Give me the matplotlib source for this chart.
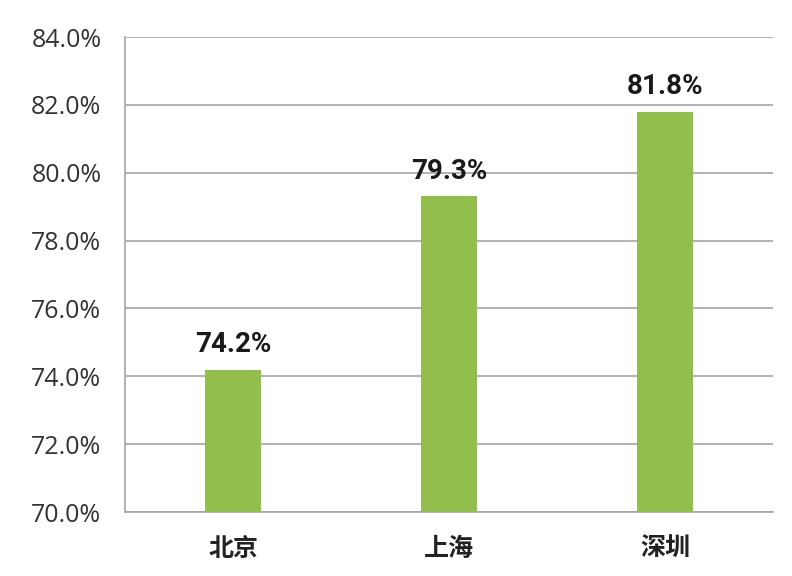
import matplotlib
matplotlib.use("Agg")
import matplotlib.pyplot as plt
from matplotlib.ticker import FuncFormatter

plt.rcParams['font.family'] = ['Open Sans', 'Noto Sans CJK SC', 'DejaVu Sans']

cities = ['北京', '上海', '深圳']
rates = [74.2, 79.3, 81.8]
labels = ['74.2%', '79.3%', '81.8%']

fig = plt.figure(figsize=(7.92, 5.76), dpi=100)
ax = fig.add_axes([125 / 792, 1 - 512 / 576, 648 / 792, 475 / 576])

x = range(len(cities))
bars = ax.bar(x, rates, width=0.255, color='#92BF4B', zorder=3)

# value labels, baseline ~17px above bar top
for xi, v, lab in zip(x, rates, labels):
    ax.text(xi, v + 0.52, lab, ha='center', va='baseline', fontsize=20,
            fontweight='bold', color='#1a1a1a',
            family=['Roboto', 'DejaVu Sans'])

ax.set_xlim(-0.5, 2.5)
ax.set_ylim(70, 84)
ax.set_yticks(range(70, 85, 2))
ax.yaxis.set_major_formatter(FuncFormatter(lambda v, p: f'{v:.1f}%'))
ax.set_xticks(list(x))
ax.set_xticklabels(cities, fontsize=18, fontweight='bold',
                   family=['Noto Sans CJK SC', 'DejaVu Sans'])
ax.tick_params(axis='y', labelsize=18, length=0, pad=17, colors='#333333')
ax.tick_params(axis='x', length=0, pad=18, colors='#222222')

ax.grid(axis='y', color='#a6a6a6', linewidth=1.2, zorder=0)
for s in ['top', 'right']:
    ax.spines[s].set_visible(False)
for s in ['left', 'bottom']:
    ax.spines[s].set_color('#a6a6a6')
    ax.spines[s].set_linewidth(1.2)

fig.savefig('out.png', dpi=100)
